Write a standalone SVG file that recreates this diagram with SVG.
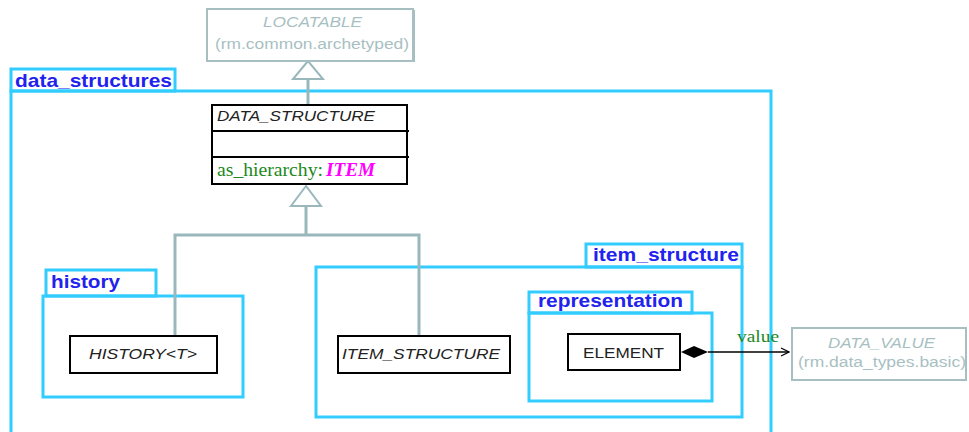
<svg xmlns="http://www.w3.org/2000/svg" width="969" height="432" viewBox="0 0 969 432">
  <style>
    .pkg { fill: none; stroke: #33ccff; stroke-width: 3; }
    .pkgname { font-family: "Liberation Sans", Arial, sans-serif; font-weight: bold; font-size: 19px; fill: #2222ee; }
    .cls { fill: #ffffff; stroke: #000000; stroke-width: 2; }
    .cname { font-family: "Liberation Sans", Arial, sans-serif; font-size: 15px; fill: #222222; }
    .abs { font-style: italic; }
    .ext { fill: #ffffff; stroke: #a8bfc2; stroke-width: 2; }
    .extname { font-family: "Liberation Sans", Arial, sans-serif; font-size: 14px; fill: #a8bfc2; }
    .gen { fill: none; stroke: #9ab8bc; stroke-width: 3; }
    .tri { fill: #ffffff; stroke: #9ab8bc; stroke-width: 2; }
  </style>
  <defs>
    <marker id="open" markerWidth="10" markerHeight="10" refX="9" refY="5" orient="auto" markerUnits="userSpaceOnUse">
      <path d="M1,1 L9,5 L1,9" fill="none" stroke="#000" stroke-width="1.2"/>
    </marker>
  </defs>
  <rect width="969" height="432" fill="#ffffff"/>

  <!-- packages -->
  <g id="pkg-data_structures">
    <rect class="pkg" x="11" y="69" width="164" height="22"/>
    <rect class="pkg" x="11" y="91" width="760" height="345"/>
    <text class="pkgname" x="15" y="87" textLength="157" lengthAdjust="spacingAndGlyphs">data_structures</text>
  </g>
  <g id="pkg-history">
    <rect class="pkg" x="46" y="270" width="110" height="26"/>
    <rect class="pkg" x="43" y="296" width="200" height="101"/>
    <text class="pkgname" x="51" y="288" textLength="69" lengthAdjust="spacingAndGlyphs">history</text>
  </g>
  <g id="pkg-item_structure">
    <rect class="pkg" x="586" y="244" width="156" height="23"/>
    <rect class="pkg" x="316" y="267" width="426" height="150"/>
    <text class="pkgname" x="593" y="261" textLength="146" lengthAdjust="spacingAndGlyphs">item_structure</text>
  </g>
  <g id="pkg-representation">
    <rect class="pkg" x="529" y="292" width="163" height="21"/>
    <rect class="pkg" x="529" y="313" width="183" height="88"/>
    <text class="pkgname" x="538" y="307" textLength="145" lengthAdjust="spacingAndGlyphs">representation</text>
  </g>

  <!-- connectors -->
  <g id="connectors">
    <path class="gen" d="M308,79 V105"/>
    <polygon class="tri" points="308,61 293,79 323,79"/>
    <path class="gen" d="M175,336 V235 H419 V336 M306,235 V206"/>
    <polygon class="tri" points="306,186 291,206 321,206"/>
    <line x1="708" y1="352" x2="789" y2="352" stroke="#000" stroke-width="1.5" marker-end="url(#open)"/>
    <polygon points="681,352 694,346 708,352 694,358" fill="#000"/>
    <text x="737" y="342" font-family="Liberation Serif, Times New Roman, serif" font-size="17" fill="#228822" textLength="42" lengthAdjust="spacingAndGlyphs">value</text>
  </g>

  <!-- classes -->
  <g id="LOCATABLE">
    <rect class="ext" x="207" y="9" width="206" height="52"/>
    <line x1="414" y1="10" x2="414" y2="62" stroke="#a8bfc2" stroke-width="2"/>
    <text class="extname abs" x="263" y="27" textLength="99" lengthAdjust="spacingAndGlyphs">LOCATABLE</text>
    <text class="extname" x="215" y="49" textLength="194" lengthAdjust="spacingAndGlyphs">(rm.common.archetyped)</text>
  </g>
  <g id="DATA_STRUCTURE">
    <rect class="cls" x="212" y="105" width="195" height="79"/>
    <line x1="212" y1="131" x2="409" y2="131" stroke="#000" stroke-width="2"/>
    <line x1="212" y1="157" x2="409" y2="157" stroke="#000" stroke-width="2"/>
    <text class="cname abs" x="217" y="121" textLength="158" lengthAdjust="spacingAndGlyphs">DATA_STRUCTURE</text>
    <text x="217" y="176" font-family="Liberation Serif, Times New Roman, serif" font-size="18"><tspan fill="#228822" textLength="106" lengthAdjust="spacingAndGlyphs">as_hierarchy:</tspan><tspan fill="#ff00ff" font-style="italic" font-weight="bold" x="326" textLength="49" lengthAdjust="spacingAndGlyphs">ITEM</tspan></text>
  </g>
  <g id="HISTORY">
    <rect class="cls" x="70" y="336" width="147" height="37"/>
    <text class="cname abs" x="89" y="359" textLength="108" lengthAdjust="spacingAndGlyphs">HISTORY&lt;T&gt;</text>
  </g>
  <g id="ITEM_STRUCTURE">
    <rect class="cls" x="338" y="336" width="172" height="37"/>
    <text class="cname abs" x="342" y="359" textLength="158" lengthAdjust="spacingAndGlyphs">ITEM_STRUCTURE</text>
  </g>
  <g id="ELEMENT">
    <rect class="cls" x="568" y="334" width="112" height="36"/>
    <text class="cname" x="583" y="358" textLength="81" lengthAdjust="spacingAndGlyphs">ELEMENT</text>
  </g>
  <g id="DATA_VALUE">
    <rect class="ext" x="792" y="328" width="174" height="52"/>
    <text class="extname abs" x="828" y="348" textLength="107" lengthAdjust="spacingAndGlyphs">DATA_VALUE</text>
    <text class="extname" x="798" y="367" textLength="168" lengthAdjust="spacingAndGlyphs">(rm.data_types.basic)</text>
  </g>
</svg>
